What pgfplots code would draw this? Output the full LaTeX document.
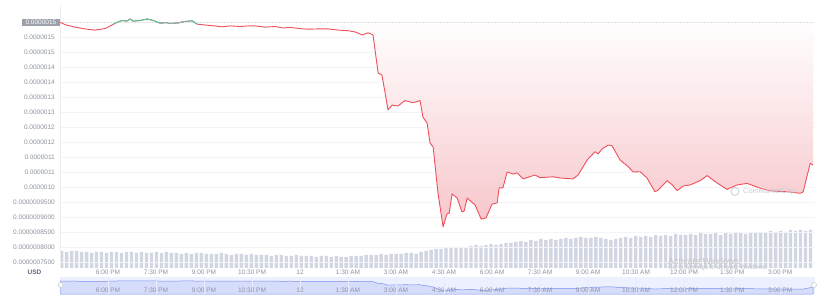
\documentclass[border=0pt]{standalone}
\usepackage{fontspec}
\setmainfont{Liberation Sans}
\usepackage{pgfplots}
\usepackage{pgfplotstable}
\pgfplotsset{compat=1.18}
\definecolor{linered}{RGB}{238,80,92}
\definecolor{cmcgreen}{RGB}{72,205,150}
\definecolor{cmcgrey}{RGB}{160,165,175}
\definecolor{fillpink}{RGB}{247,198,203}
\definecolor{tickgrey}{RGB}{140,146,158}
\definecolor{gridgrey}{RGB}{243,244,247}
\definecolor{volbar}{RGB}{210,214,227}
\definecolor{navbg}{RGB}{237,240,254}
\definecolor{navfill}{RGB}{214,221,251}
\definecolor{navline}{RGB}{120,144,238}
\definecolor{navtick}{RGB}{140,146,168}
\definecolor{boxgrey}{RGB}{155,160,170}
\definecolor{usdcol}{RGB}{88,102,126}
\definecolor{wmgrey}{RGB}{200,205,215}

% price in units of 1e-7 USD, x in hours after 6:00 PM
\pgfplotstableread{
x y
-1.50 15.49
-1.31 15.40
-1.03 15.33
-0.72 15.27
-0.41 15.23
-0.09 15.28
0.16 15.42
0.31 15.50
0.44 15.55
0.59 15.53
0.69 15.60
0.78 15.53
1.00 15.55
1.22 15.60
1.31 15.58
1.47 15.53
1.63 15.46
1.81 15.48
1.94 15.45
2.19 15.47
2.41 15.52
2.63 15.54
2.78 15.43
3.03 15.40
3.34 15.37
3.56 15.34
3.81 15.37
4.13 15.35
4.38 15.37
4.59 15.37
4.91 15.33
5.22 15.35
5.47 15.30
5.69 15.32
6.00 15.28
6.25 15.26
6.56 15.27
6.88 15.27
7.19 15.23
7.50 15.21
7.72 15.17
7.94 15.07
8.13 15.14
8.28 15.07
8.44 13.80
8.56 13.73
8.75 12.57
8.88 12.73
9.06 12.70
9.28 12.88
9.53 12.81
9.75 12.88
9.84 12.33
9.97 12.13
10.06 11.47
10.16 11.33
10.31 9.80
10.47 8.67
10.59 9.10
10.66 9.13
10.75 9.77
10.91 9.63
11.06 9.17
11.13 9.20
11.22 9.63
11.47 9.40
11.66 8.93
11.81 8.97
12.00 9.43
12.16 9.47
12.22 9.97
12.34 9.97
12.47 10.50
12.66 10.43
12.78 10.47
12.97 10.27
13.34 10.40
13.50 10.31
13.91 10.34
14.13 10.30
14.53 10.27
14.69 10.40
14.97 10.90
15.22 11.18
15.31 11.10
15.44 11.27
15.63 11.40
15.75 11.37
16.00 10.90
16.25 10.68
16.41 10.50
16.63 10.51
16.84 10.30
17.09 9.84
17.19 9.90
17.47 10.21
17.63 10.07
17.78 9.88
17.97 10.03
18.19 10.07
18.50 10.21
18.72 10.38
18.97 10.18
19.34 9.92
19.66 10.07
19.97 10.12
20.38 9.96
20.69 9.87
21.22 9.84
21.63 9.79
21.72 9.84
21.94 10.79
22.03 10.73
}\price

% volume bars (relative heights), one per interval
\pgfplotstableread[row sep=\\]{
i h\\
0 17\\ 1 16\\ 2 17\\ 3 17\\ 4 16\\ 5 16\\ 6 15\\ 7 16\\ 8 16\\ 9 15\\
10 16\\ 11 16\\ 12 15\\ 13 16\\ 14 16\\ 15 15\\ 16 16\\ 17 15\\ 18 15\\ 19 16\\
20 15\\ 21 16\\ 22 15\\ 23 15\\ 24 14\\ 25 15\\ 26 14\\ 27 15\\ 28 15\\ 29 14\\
30 14\\ 31 14\\ 32 15\\ 33 14\\ 34 13\\ 35 14\\ 36 14\\ 37 13\\ 38 14\\ 39 13\\
40 13\\ 41 13\\ 42 12\\ 43 13\\ 44 13\\ 45 12\\ 46 12\\ 47 13\\ 48 12\\ 49 12\\
50 12\\ 51 11\\ 52 12\\ 53 12\\ 54 11\\ 55 12\\ 56 11\\ 57 11\\ 58 12\\ 59 12\\
60 12\\ 61 13\\ 62 13\\ 63 13\\ 64 14\\ 65 13\\ 66 14\\ 67 14\\ 68 14\\ 69 15\\
70 15\\ 71 14\\ 72 16\\ 73 17\\ 74 18\\ 75 19\\ 76 19\\ 77 20\\ 78 20\\ 79 21\\
80 21\\ 81 20\\ 82 22\\ 83 23\\ 84 22\\ 85 23\\ 86 24\\ 87 23\\ 88 24\\ 89 25\\
90 25\\ 91 26\\ 92 27\\ 93 26\\ 94 28\\ 95 27\\ 96 29\\ 97 28\\ 98 29\\ 99 28\\
100 29\\ 101 30\\ 102 29\\ 103 30\\ 104 31\\ 105 30\\ 106 30\\ 107 31\\ 108 30\\ 109 29\\
110 28\\ 111 29\\ 112 30\\ 113 31\\ 114 30\\ 115 32\\ 116 31\\ 117 32\\ 118 31\\ 119 33\\
120 32\\ 121 33\\ 122 32\\ 123 34\\ 124 33\\ 125 33\\ 126 34\\ 127 33\\ 128 35\\ 129 34\\
130 34\\ 131 35\\ 132 33\\ 133 35\\ 134 34\\ 135 35\\ 136 36\\ 137 34\\ 138 35\\ 139 36\\
140 35\\ 141 36\\ 142 37\\ 143 36\\ 144 37\\ 145 36\\ 146 38\\ 147 37\\ 148 38\\ 149 37\\ 150 38\\
}\volume

\begin{document}
\begin{tikzpicture}
\useasboundingbox (0,0) rectangle (825pt,300pt);

% volume bars
\begin{axis}[at={(60pt,32pt)}, anchor=south west, width=755pt, height=263pt,
  scale only axis, xmin=-0.32, xmax=150.9, ymin=0, ymax=263, hide axis]
\addplot[ybar, bar width=3.4pt, bar shift=0pt, fill=volbar, draw=none] table[x=i,y=h]{\volume};
\end{axis}

% price
\begin{axis}[at={(60pt,32pt)}, anchor=south west, width=755pt, height=263pt,
  scale only axis, xmin=-1.5, xmax=22.09, ymin=7.3, ymax=16.067,
  axis line style={draw=none}, major tick length=0pt,
  xtick={0,1.5,...,21},
  xticklabels={6:00 PM,7:30 PM,9:00 PM,10:30 PM,12,1:30 AM,3:00 AM,4:30 AM,6:00 AM,7:30 AM,9:00 AM,10:30 AM,12:00 PM,1:30 PM,3:00 PM},
  ytick={7.5,8,...,15},
  yticklabels={0.0000007500,0.0000008000,0.0000008500,0.0000009000,0.0000009500,0.0000010,0.0000011,0.0000011,0.0000012,0.0000012,0.0000013,0.0000013,0.0000014,0.0000014,0.0000015,0.0000015},
  ymajorgrids, grid style={gridgrey, line width=0.5pt},
  tick label style={font=\fontsize{6.5}{7}\selectfont, text=tickgrey},
  xticklabel style={anchor=center, inner sep=0pt, yshift=-4.7pt},
  yticklabel style={anchor=east, inner sep=0pt, xshift=-5pt}]
\addplot[draw=none, top color=white, bottom color=fillpink] table{\price} -- (axis cs:22.03,15.49) -- (axis cs:-1.5,15.49) -- cycle;
\draw[densely dotted, color=gray!25, line width=0.5pt] (axis cs:-1.5,15.49) -- (axis cs:22.09,15.49);
\draw[color=gray!15, line width=0.5pt] (rel axis cs:0,0) -- (rel axis cs:0,1);
\addplot[linered, line width=0.9pt, line join=round] table{\price};
\addplot[cmcgreen, line width=0.9pt, line join=round, restrict x to domain=0.15:2.8] table{\price};
\addplot[cmcgrey, line width=0.9pt, line join=round, restrict x to domain=1.55:1.82] table{\price};
\addplot[cmcgrey, line width=0.9pt, line join=round, restrict x to domain=1.93:2.45] table{\price};
\end{axis}

% navigator
\begin{axis}[at={(60pt,6pt)}, anchor=south west, width=755pt, height=17pt,
  scale only axis, xmin=-1.5, xmax=22.09, ymin=6.35, ymax=18.3,
  axis on top,
  axis background/.style={fill=navbg},
  axis line style={draw=none}, major tick length=0pt, ytick=\empty,
  xtick={0,1.5,...,21},
  xticklabels={6:00 PM,7:30 PM,9:00 PM,10:30 PM,12,1:30 AM,3:00 AM,4:30 AM,6:00 AM,7:30 AM,9:00 AM,10:30 AM,12:00 PM,1:30 PM,3:00 PM},
  xmajorgrids, grid style={navfill!60!white, line width=0.4pt},
  tick label style={font=\fontsize{6.5}{7}\selectfont, text=navtick},
  xticklabel style={anchor=center, inner sep=0pt, yshift=4pt}]
\addplot[draw=navline, fill=navfill, line width=0.5pt] table{\price} \closedcycle;
\end{axis}

\draw[fill=white, draw=gray!45, line width=0.5pt] (60.7pt,15pt) circle (2.5pt);
\draw[fill=white, draw=gray!45, line width=0.5pt] (814pt,15pt) circle (2.5pt);

\node[font=\bfseries\fontsize{6.5}{7}\selectfont, text=usdcol] at (34.5pt,27.3pt) {USD};
\node[fill=boxgrey, text=white, font=\fontsize{6.5}{7}\selectfont, inner xsep=3.5pt, inner ysep=1.2pt, anchor=east] at (60pt,277.7pt) {0.0000015};

\draw[wmgrey, line width=0.8pt] (735pt,108.5pt) circle (4pt);
\node[anchor=west, text=wmgrey, font=\fontsize{7.5}{8}\selectfont, inner sep=0pt] at (743pt,108.5pt) {CoinMarketCap};

\node[anchor=west, text=gray!45, font=\fontsize{9}{10}\selectfont, inner sep=0pt] at (668pt,39pt) {Activate Windows};
\node[anchor=west, text=gray!45, font=\fontsize{6.3}{7}\selectfont, inner sep=0pt] at (668pt,31.7pt) {Go to Settings to activate Windows.};
\end{tikzpicture}
\end{document}
